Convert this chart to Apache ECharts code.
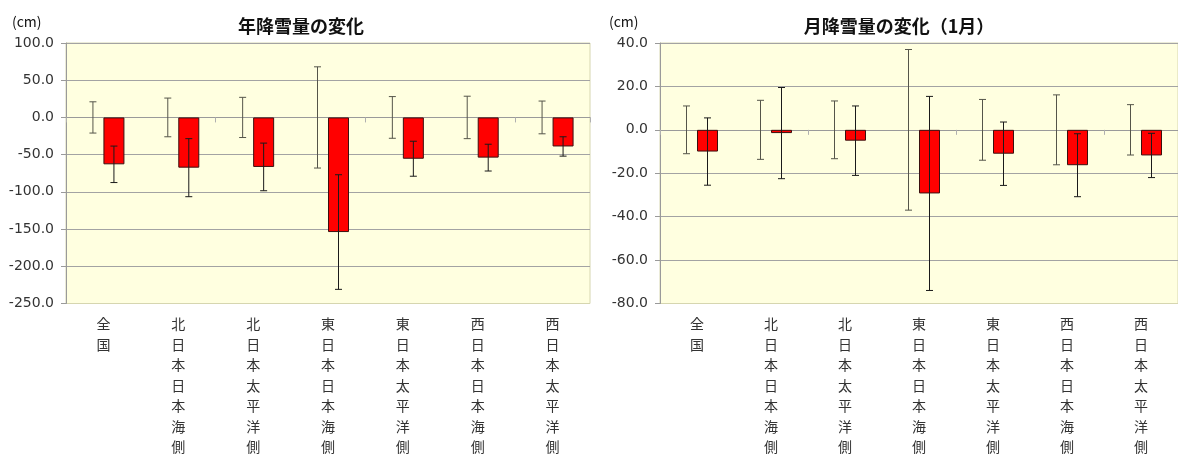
<!DOCTYPE html>
<html>
<head>
<meta charset="utf-8">
<script src="https://cdn.jsdelivr.net/npm/echarts@6/dist/echarts.min.js"></script>
<style>
  html, body { margin: 0; padding: 0; background: #fff; }
  #chart { width: 1178px; height: 457px; }
</style>
</head>
<body>
<div id="chart"></div>
<script>
// regions (x axis categories)
const categories = ['全国', '北日本日本海側', '北日本太平洋側', '東日本日本海側', '東日本太平洋側', '西日本日本海側', '西日本太平洋側']

// annual snowfall change (cm), with error half-widths
const annualChange = [-63, -67.5, -66.5, -154, -55.5, -54, -39]
const annualChangeErr = [24.5, 39, 32, 77, 23.5, 18, 13]
const annualBaseErr = [21, 26, 27, 68, 28, 28.5, 22]

// January snowfall change (cm)
const janChange = [-10, -1.5, -5, -29.3, -11, -16.3, -11.8]
const janChangeErr = [15.5, 21, 16, 44.7, 14.6, 14.5, 10.2]
const janBaseErr = [11, 13.6, 13.3, 37, 14, 16.1, 11.6]

const annualTicks = { min: -250, max: 100, interval: 50 }
const janTicks = { min: -80, max: 40, interval: 20 }

const FONT_JP = '"Noto Sans CJK JP", sans-serif'
const BAR_W = 21

const chart = echarts.init(document.getElementById('chart'))

// error bar drawn at the category centre shifted by offset px
const errorBars = (offset, color) => (params, api) => {
  const c = api.value(0)
  const v = api.value(1)
  const e = api.value(2)
  const top = api.coord([c, v + e])
  const bot = api.coord([c, v - e])
  const x = top[0] + offset
  const cap = 3.5
  const style = { stroke: color, lineWidth: 1 }
  return {
    type: 'group',
    children: [
      { type: 'line', shape: { x1: x, y1: top[1], x2: x, y2: bot[1] }, style },
      { type: 'line', shape: { x1: x - cap, y1: top[1], x2: x + cap, y2: top[1] }, style },
      { type: 'line', shape: { x1: x - cap, y1: bot[1], x2: x + cap, y2: bot[1] }, style },
    ],
  }
}

const gridStyle = {
  show: true,
  backgroundColor: '#ffffe0',
  borderColor: '#d6d6b0',
  borderWidth: 1,
  top: 43,
  height: 262,
}

// label axis at the bottom, plus a zero axis carrying the line and ticks
const xAxes = (gridIndex) => [
  {
    type: 'category',
    gridIndex,
    data: categories,
    position: 'bottom',
    axisLine: { show: false, onZero: false },
    axisTick: { show: false },
    axisLabel: {
      interval: 0,
      margin: 10,
      color: '#333',
      fontFamily: FONT_JP,
      fontSize: 14,
      lineHeight: 20.5,
      verticalAlign: 'top',
      formatter: (v) => v.split('').join('\n'),
    },
  },
  {
    type: 'category',
    gridIndex,
    data: categories,
    position: 'top',
    axisLine: { show: true, onZero: true, lineStyle: { color: '#9a9a9a', width: 1 } },
    axisTick: { show: true, inside: true, length: 5, lineStyle: { color: '#b0b0b0' } },
    axisLabel: { show: false },
  },
]

const yAxis = (gridIndex, ticks) => ({
  type: 'value',
  gridIndex,
  min: ticks.min,
  max: ticks.max,
  interval: ticks.interval,
  axisLine: { show: true, lineStyle: { color: '#9a9a9a' } },
  axisTick: { show: true, length: 5, lineStyle: { color: '#9a9a9a' } },
  axisLabel: {
    margin: 12,
    color: '#333',
    fontFamily: '"DejaVu Sans", sans-serif',
    fontSize: 14,
    formatter: (v) => v.toFixed(1),
  },
  splitLine: { show: true, showMinLine: false, lineStyle: { color: '#a3a3a3', width: 1 } },
})

const panelSeries = (xAxisIndex, yAxisIndex, change, changeErr, baseErr) => [
  {
    type: 'bar',
    xAxisIndex,
    yAxisIndex,
    barWidth: BAR_W,
    barGap: '0%',
    data: categories.map(() => 0),
    itemStyle: { color: 'transparent', borderWidth: 0 },
    silent: true,
  },
  {
    type: 'bar',
    xAxisIndex,
    yAxisIndex,
    barWidth: BAR_W,
    barGap: '0%',
    data: change,
    itemStyle: { color: '#ff0000', borderColor: '#3a1010', borderWidth: 1 },
  },
  {
    type: 'custom',
    xAxisIndex,
    yAxisIndex,
    z: 5,
    renderItem: errorBars(-BAR_W / 2, '#55554a'),
    data: baseErr.map((e, i) => [i, 0, e]),
  },
  {
    type: 'custom',
    xAxisIndex,
    yAxisIndex,
    z: 5,
    renderItem: errorBars(BAR_W / 2, '#1a1a1a'),
    data: change.map((v, i) => [i, v, changeErr[i]]),
  },
]

const text = (x, y, str, size, weight, align) => ({
  type: 'text',
  x,
  y,
  style: {
    text: str,
    fill: '#111',
    font: `${weight} ${size}px ${FONT_JP}`,
    textAlign: align,
    textVerticalAlign: 'middle',
  },
})

chart.setOption({
  animation: false,
  grid: [
    { ...gridStyle, left: 66, width: 524 },
    { ...gridStyle, left: 660, width: 525 },
  ],
  xAxis: [...xAxes(0), ...xAxes(1)],
  yAxis: [yAxis(0, annualTicks), yAxis(1, janTicks)],
  series: [
    ...panelSeries(0, 0, annualChange, annualChangeErr, annualBaseErr),
    ...panelSeries(2, 1, janChange, janChangeErr, janBaseErr),
  ],
  graphic: [
    text(301, 26, '年降雪量の変化', 18, 'bold', 'center'),
    text(899, 26, '月降雪量の変化（1月）', 18, 'bold', 'center'),
    text(12, 22, '(cm)', 14, 'normal', 'left'),
    text(609, 22, '(cm)', 14, 'normal', 'left'),
  ],
})
</script>
</body>
</html>
